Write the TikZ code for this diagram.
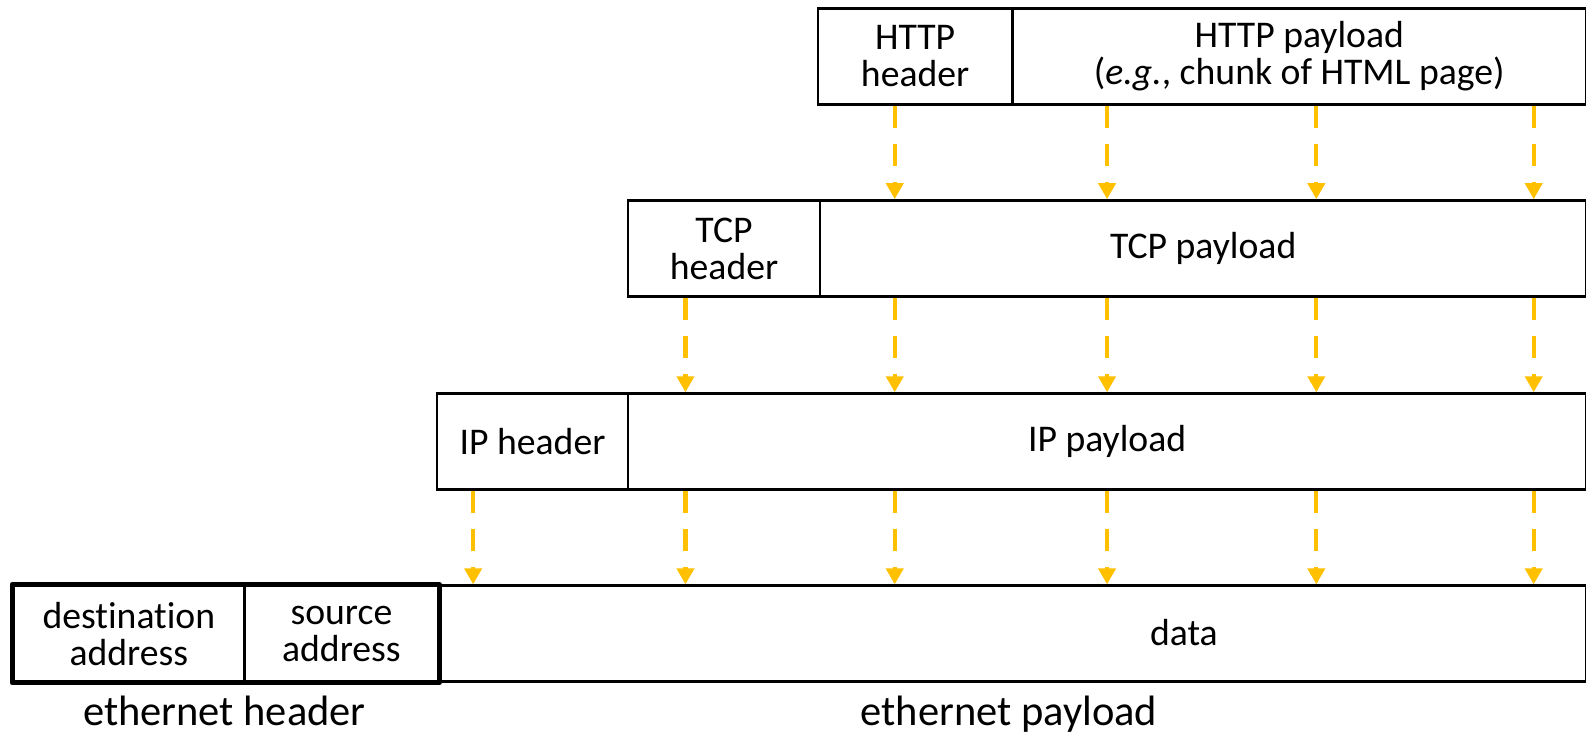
\documentclass[tikz,border=0pt]{standalone}
\usepackage{fontspec}
\setmainfont{Carlito}[Ligatures=NoCommon]
\usetikzlibrary{arrows.meta}
\definecolor{gold}{HTML}{FFC000}
\tikzset{
  cell/.style={draw, line width=2.5pt, anchor=north west, minimum height=96pt,
    inner sep=0pt, align=center, font=\fontsize{37.7}{37}\selectfont},
  txt/.style={inner sep=0pt, align=center, font=\fontsize{37.7}{37}\selectfont},
  lbl/.style={inner sep=0pt, anchor=base, font=\fontsize{42.5}{44}\selectfont},
  flow/.style={draw=gold, line width=4.2pt, dash pattern=on 22pt off 16pt,
    -{Triangle[length=16pt,width=17pt]}},
  thickbox/.style={draw, line width=5pt, line join=round}
}
\begin{document}
\begin{tikzpicture}[x=1.011pt,y=-1.011pt]
\useasboundingbox (0,0) rectangle (1568.75,728);
% HTTP row
\node[cell, minimum width=194pt] (httph) at (808,7) {HTTP\\header};
\node[cell, minimum width=574pt] (httpp) at (1000,7) {HTTP payload\\(\textit{e.g.}, chunk of HTML page)};
% TCP row
\node[cell, minimum width=192pt] (tcph) at (620,197) {TCP\\header};
\node[cell, minimum width=766pt] (tcpp) at (810,197) {TCP payload};
% IP row
\node[cell, minimum width=191pt] (iph) at (431,388) {IP header};
\node[cell, minimum width=958pt] (ipp) at (620,388) {IP payload};
% Ethernet row
\node[cell, minimum width=1148pt] (data) at (432,578) {};
\node[txt] (datat) at (1171,626) {data};
\node[cell, minimum width=231pt] (dst) at (12,578) {destination\\address};
\node[cell, minimum width=193pt] (src) at (241,578) {source\\address};
\draw[thickbox] (dst.north west) rectangle (src.south east);
% labels
\node[lbl] (ethh) at (222,718) {ethernet header};
\node[lbl] (ethp) at (998,718) {ethernet payload};
% columns
\coordinate (c1) at (468,0);
\coordinate (c2) at (678,0);
\coordinate (c3) at (885,0);
\coordinate (c4) at (1095,0);
\coordinate (c5) at (1302,0);
\coordinate (c6) at (1517,0);
\foreach \c in {c3,c4,c5,c6}
  \draw[flow] (httpp.south -| \c) -- (tcpp.north -| \c);
\foreach \c in {c2,c3,c4,c5,c6}
  \draw[flow] (tcpp.south -| \c) -- (ipp.north -| \c);
\foreach \c in {c1,c2,c3,c4,c5,c6}
  \draw[flow] (ipp.south -| \c) -- (data.north -| \c);
\end{tikzpicture}
\end{document}
